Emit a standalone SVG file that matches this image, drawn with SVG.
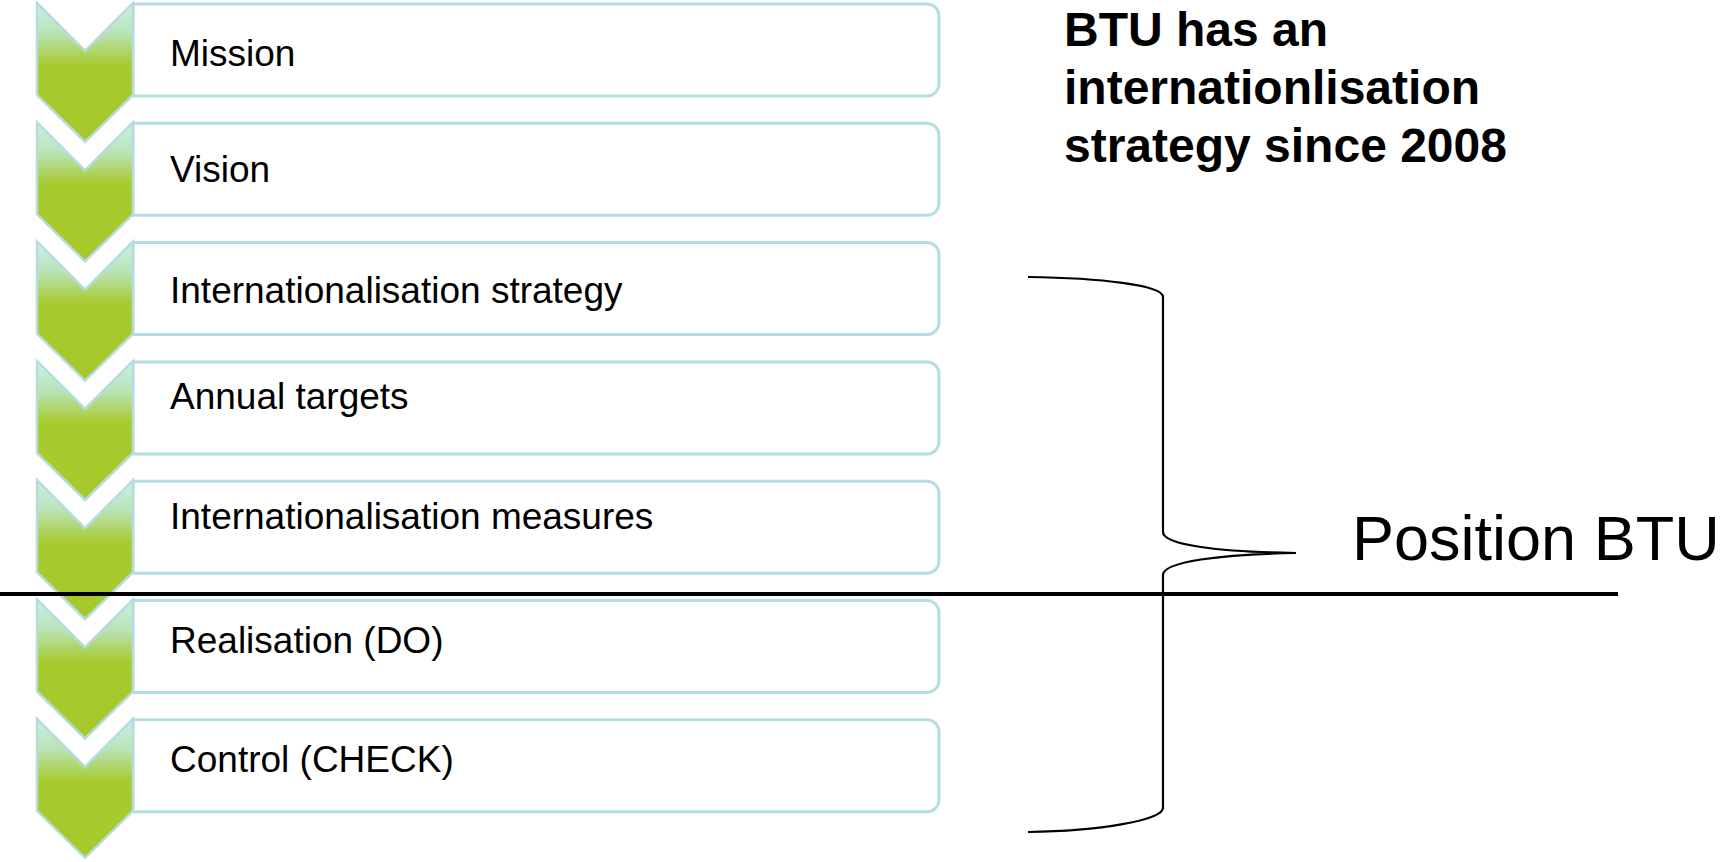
<svg xmlns="http://www.w3.org/2000/svg" width="1724" height="862" viewBox="0 0 1724 862">
<defs>
<linearGradient id="chev" x1="0" y1="0" x2="0" y2="1">
<stop offset="0" stop-color="#c9f1ea"/>
<stop offset="0.22" stop-color="#b9e3b4"/>
<stop offset="0.45" stop-color="#a7ca2c"/>
<stop offset="1" stop-color="#a6c82a"/>
</linearGradient>
<path id="chevShape" d="M37,0 L85,48 L133,0 L133,92 L85,139 L37,92 Z"/>
<path id="boxShape" d="M133,0 H927 A12,12 0 0 1 939,12 V80 A12,12 0 0 1 927,92 H133 Z"/>
</defs>
<style>
.chev{fill:url(#chev);stroke:#b7dcdf;stroke-width:2.5;stroke-linejoin:miter}
.box{fill:#ffffff;stroke:#b6dee2;stroke-width:3}
.lbl{font-family:"Liberation Sans",Arial,sans-serif;font-size:37px;fill:#000}
.conn{fill:none;stroke:#000}
</style>
<rect width="1724" height="862" fill="#ffffff"/>
<g id="step1" transform="translate(0,4)"><use href="#boxShape" class="box"/><use href="#chevShape" class="chev" transform="translate(0,-1)"/><text class="lbl" x="170" y="62">Mission</text></g>
<g id="step2" transform="translate(0,123.3)"><use href="#boxShape" class="box"/><use href="#chevShape" class="chev" transform="translate(0,-1)"/><text class="lbl" x="170" y="59">Vision</text></g>
<g id="step3" transform="translate(0,242.6)"><use href="#boxShape" class="box"/><use href="#chevShape" class="chev" transform="translate(0,-1)"/><text class="lbl" x="170" y="60">Internationalisation strategy</text></g>
<g id="step4" transform="translate(0,361.9)"><use href="#boxShape" class="box"/><use href="#chevShape" class="chev" transform="translate(0,-1)"/><text class="lbl" x="170" y="47">Annual targets</text></g>
<g id="step5" transform="translate(0,481.2)"><use href="#boxShape" class="box"/><use href="#chevShape" class="chev" transform="translate(0,-1)"/><text class="lbl" x="170" y="48">Internationalisation measures</text></g>
<g id="step6" transform="translate(0,600.5)"><use href="#boxShape" class="box"/><use href="#chevShape" class="chev" transform="translate(0,-1)"/><text class="lbl" x="170" y="52">Realisation (DO)</text></g>
<g id="step7" transform="translate(0,719.8)"><use href="#boxShape" class="box"/><use href="#chevShape" class="chev" transform="translate(0,-1)"/><text class="lbl" x="170" y="52">Control (CHECK)</text></g>
<g id="connectors">
<line class="conn" x1="0" y1="594" x2="1618" y2="594" stroke-width="4"/>
<path class="conn" stroke-width="2.2" d="M1028,277 C1100,278 1163,285 1163,297 L1163,532 C1163,545 1220,552 1296,553 C1220,554 1163,562 1163,575 L1163,808 C1163,820 1100,831 1028,832"/>
</g>
<g id="note">
<text font-family="Liberation Sans, Arial, sans-serif" font-weight="bold" font-size="48" x="1064" fill="#000"><tspan x="1064" y="46">BTU has an</tspan><tspan x="1064" y="104">internationlisation</tspan><tspan x="1064" y="162">strategy since 2008</tspan></text>
</g>
<g id="position">
<text font-family="Liberation Sans, Arial, sans-serif" font-size="63" x="1352" y="560" fill="#000">Position BTU</text>
</g>
</svg>
